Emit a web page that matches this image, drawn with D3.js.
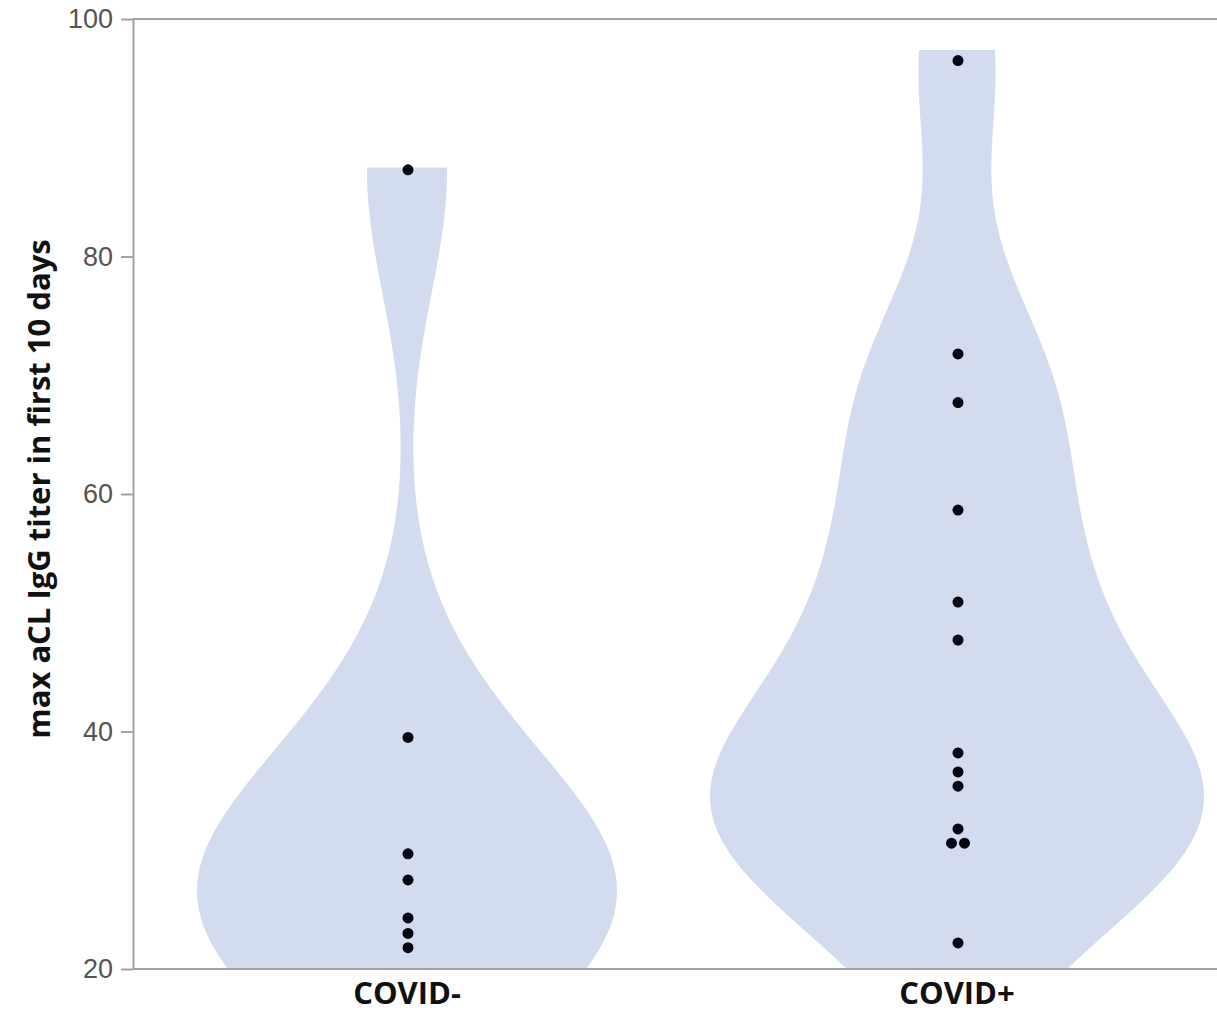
<!DOCTYPE html>
<html>
<head>
<meta charset="utf-8">
<script src="https://cdn.jsdelivr.net/npm/d3@7"></script>
<style>
  body { margin: 0; background: #fff; }
  svg { display: block; }
</style>
</head>
<body>
<script>
// Data
var categories = ['COVID-', 'COVID+'];
var covidNeg = [87.3, 39.5, 29.7, 27.5, 24.3, 23.0, 21.8];
var covidPos = [96.5, 71.8, 67.7, 58.65, 50.9, 47.7, 38.2, 36.6, 35.4, 31.8, 30.6, 30.6, 22.2];
var bandwidths = [10.5, 9];      // kernel bandwidth of each violin
var violinTops = [87.5, 97.4];   // where each violin is cut flat
var yTicks = [20, 40, 60, 80, 100];

var groups = [covidNeg, covidPos];

// Set dimensions of svg
var w = 1217,
    h = 1013;

var maxHalf = [210, 247];  // half width of each violin at its widest

var svg = d3.select('body')
            .append('svg')
            .attr('width', w)
            .attr('height', h);

var xScale = d3.scaleBand()
               .domain(categories)
               .range([132, 1232])
               .padding(0);

var yScale = d3.scaleLinear()
               .domain([20, 100])
               .range([969, 19]);

svg.append('clipPath')
   .attr('id', 'plot')
   .append('rect')
   .attr('x', 133)
   .attr('y', 19)
   .attr('width', w - 133)
   .attr('height', 950);

// gaussian kernel density
function kde(values, bw, grid) {
   return grid.map(function(v) {
      var s = d3.sum(values, function(d) {
         var u = (v - d) / bw;
         return Math.exp(-0.5 * u * u);
      });
      return { v: v, d: s };
   });
}

var violins = svg.append('g').attr('clip-path', 'url(#plot)');

groups.forEach(function(vals, i) {
   var grid = d3.range(10, violinTops[i], 0.2).concat([violinTops[i]]);
   var dens = kde(vals, bandwidths[i], grid);
   var cx = xScale(categories[i]) + xScale.bandwidth() / 2;
   var wScale = d3.scaleLinear()
                  .domain([0, d3.max(dens, function(d) { return d.d; })])
                  .range([0, maxHalf[i]]);

   var area = d3.area()
                .y(function(d) { return yScale(d.v); })
                .x0(function(d) { return cx - wScale(d.d); })
                .x1(function(d) { return cx + wScale(d.d); })
                .curve(d3.curveLinear);

   violins.append('path')
          .datum(dens)
          .attr('d', area)
          .attr('fill', '#d3dcef');
});

// Axes
var yAxis = d3.axisLeft(yScale)
              .tickValues(yTicks)
              .tickSize(12)
              .tickPadding(8)
              .tickSizeOuter(0);

var gy = svg.append('g')
            .attr('transform', 'translate(133,0)')
            .call(yAxis);
gy.select('.domain').attr('stroke', '#a3a3a3').attr('stroke-width', 2);
gy.selectAll('.tick line').attr('stroke', '#a3a3a3').attr('stroke-width', 2);
gy.selectAll('.tick text')
  .attr('font-family', "'Liberation Sans', Arial, sans-serif")
  .attr('font-size', '27px')
  .attr('fill', '#555');

// top border and bottom axis line
[19, 969].forEach(function(yy) {
   svg.append('line')
      .attr('x1', 133).attr('x2', w)
      .attr('y1', yy).attr('y2', yy)
      .attr('stroke', '#a3a3a3')
      .attr('stroke-width', 2);
});

var xAxis = d3.axisBottom(xScale).tickSize(0).tickPadding(13);
var gx = svg.append('g')
            .attr('transform', 'translate(0,969)')
            .call(xAxis);
gx.select('.domain').remove();
gx.selectAll('.tick text')
  .attr('font-family', "'Open Sans', sans-serif")
  .attr('font-weight', 'bold')
  .attr('font-size', '31px')
  .attr('fill', '#111');

// Y title
svg.append('text')
   .attr('transform', 'translate(50,489) rotate(-90)')
   .attr('text-anchor', 'middle')
   .attr('font-family', "'Open Sans', sans-serif")
   .attr('font-weight', 'bold')
   .attr('font-size', '31px')
   .attr('fill', '#111')
   .text('max aCL IgG titer in first 10 days');

// Points; equal values are placed side by side
groups.forEach(function(vals, i) {
   var cx = xScale(categories[i]) + xScale.bandwidth() / 2;
   var counts = d3.rollup(vals, function(v) { return v.length; }, function(d) { return d; });
   var seen = new Map();
   var pts = vals.map(function(d) {
      var k = counts.get(d);
      var j = seen.get(d) || 0;
      seen.set(d, j + 1);
      return { v: d, dx: (j - (k - 1) / 2) * 13 };
   });

   svg.append('g')
      .selectAll('circle')
      .data(pts)
      .enter()
      .append('circle')
      .attr('cx', function(d) { return cx + d.dx + 1; })
      .attr('cy', function(d) { return yScale(d.v); })
      .attr('r', 5.5)
      .attr('fill', '#05050f');
});
</script>
</body>
</html>
